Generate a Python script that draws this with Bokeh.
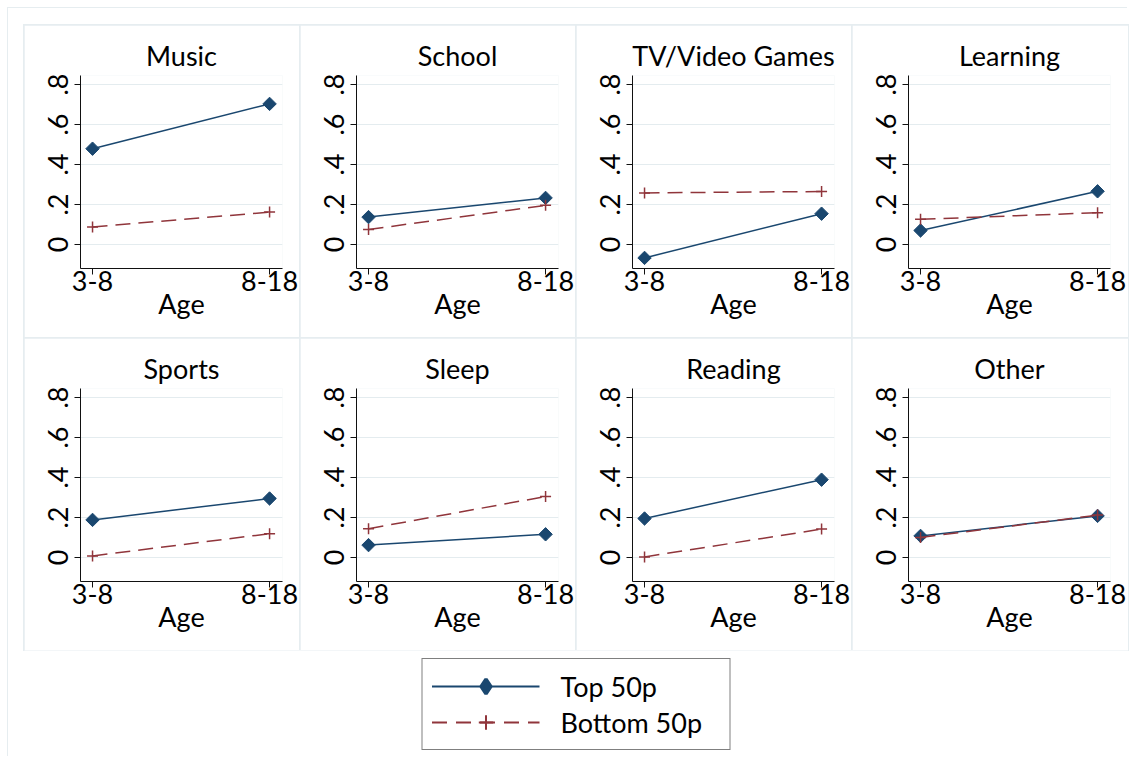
import math
from bokeh.plotting import figure
from bokeh.models import FixedTicker, Legend, LegendItem
from bokeh.layouts import gridplot, column
from bokeh.embed import file_html
from bokeh.resources import INLINE

# ---------------- data ----------------
categories = ["Music", "School", "TV/Video Games", "Learning",
              "Sports", "Sleep", "Reading", "Other"]
ages = ["3-8", "8-18"]
series_names = ["Top 50p", "Bottom 50p"]

top_3_8 = [0.479, 0.137, -0.067, 0.070, 0.188, 0.062, 0.195, 0.108]
top_8_18 = [0.703, 0.233, 0.154, 0.266, 0.295, 0.116, 0.389, 0.208]
bottom_3_8 = [0.088, 0.075, 0.258, 0.126, 0.008, 0.144, 0.003, 0.100]
bottom_8_18 = [0.162, 0.196, 0.265, 0.159, 0.119, 0.305, 0.142, 0.212]

ytick_values = [0, 0.2, 0.4, 0.6, 0.8]
ytick_labels = ["0", ".2", ".4", ".6", ".8"]
x_title = "Age"

# ---------------- style ----------------
FONT = "Lato"
FS = "27px"
NAVY = "#1a476f"
MAROON = "#90353b"
GRIDC = "#e4ecef"
PANEL_BORDER = "#e6edf0"
col_widths = [275, 275, 275, 276]
PANEL_H = 312
FRAME_W = 202

xpos = list(range(len(ages)))


def make_panel(i):
    w = col_widths[i % 4]
    p = figure(width=w, height=PANEL_H,
               x_range=(-0.068, 1.073), y_range=(-0.12, 0.845),
               output_backend="svg", toolbar_location=None,
               min_border_left=56, min_border_right=w - 56 - FRAME_W,
               min_border_top=50, min_border_bottom=69,
               title=categories[i])
    p.title.align = "center"
    p.title.text_font = FONT
    p.title.text_font_size = FS
    p.title.text_font_style = "normal"
    p.title.text_color = "black"
    p.title.standoff = 8
    p.outline_line_color = None
    p.background_fill_color = "white"
    p.border_fill_color = "white"
    p.xgrid.visible = False
    p.ygrid.grid_line_color = GRIDC
    p.ygrid.grid_line_width = 1

    p.yaxis.ticker = FixedTicker(ticks=ytick_values)
    p.yaxis.major_label_overrides = dict(zip(ytick_values, ytick_labels))
    p.yaxis.major_label_orientation = "vertical"
    p.yaxis.major_label_standoff = 7
    p.xaxis.ticker = FixedTicker(ticks=xpos)
    p.xaxis.major_label_overrides = dict(zip(xpos, ages))
    p.xaxis.major_label_standoff = -4
    p.xaxis.axis_label = x_title
    p.xaxis.axis_label_standoff = -7
    p.xaxis.axis_label_text_font = FONT
    p.xaxis.axis_label_text_font_size = FS
    p.xaxis.axis_label_text_font_style = "normal"
    p.xaxis.axis_label_text_color = "black"
    for ax in (p.xaxis[0], p.yaxis[0]):
        ax.minor_tick_line_color = None
        ax.major_tick_in = 0
        ax.major_tick_out = 6
        ax.axis_line_color = "#111111"
        ax.major_tick_line_color = "#111111"
        ax.major_label_text_font = FONT
        ax.major_label_text_font_size = FS
        ax.major_label_text_color = "black"

    top = [top_3_8[i], top_8_18[i]]
    bot = [bottom_3_8[i], bottom_8_18[i]]
    p.line(xpos, top, line_color=NAVY, line_width=1.5)
    p.scatter(xpos, top, marker="square", angle=math.pi / 4, size=9.5,
              fill_color=NAVY, line_color=NAVY)
    p.line(xpos, bot, line_color=MAROON, line_width=1.5, line_dash="15 8")
    p.scatter(xpos, bot, marker="cross", size=11, line_color=MAROON,
              line_width=1.5)
    return p


panels = [make_panel(i) for i in range(len(categories))]
grid = gridplot(panels, ncols=4, toolbar_location=None)
grid.spacing = 1
grid.styles = {"background-color": PANEL_BORDER,
               "outline": f"1px solid {PANEL_BORDER}"}
grid.margin = (17, 0, 0, 16)

# ---------------- legend ----------------
nan = float("nan")
lf = figure(width=1104, height=107, output_backend="svg",
            toolbar_location=None, x_axis_type=None, y_axis_type=None,
            x_range=(0, 1), y_range=(0, 1), min_border=0)
lf.outline_line_color = None
lf.xgrid.visible = False
lf.ygrid.visible = False
l1 = lf.line(x=[nan], y=[nan], line_color=NAVY, line_width=1.8)
s1 = lf.scatter(x=[nan], y=[nan], marker="diamond", fill_color=NAVY,
                line_color=NAVY, line_width=3.5)
l2 = lf.line(x=[nan], y=[nan], line_color=MAROON, line_width=1.8,
             line_dash="15 9")
s2 = lf.scatter(x=[nan], y=[nan], marker="cross", line_color=MAROON,
                line_width=2)
legend = Legend(items=[LegendItem(label=series_names[0], renderers=[l1, s1]),
                       LegendItem(label=series_names[1], renderers=[l2, s2])],
                location="top_center", orientation="vertical",
                border_line_color="black", border_line_width=1,
                background_fill_color="white", background_fill_alpha=1,
                label_text_font=FONT, label_text_font_size=FS,
                label_text_color="black",
                glyph_width=108, glyph_height=36, label_standoff=21,
                label_width=160, padding=9, spacing=0, margin=8)
lf.add_layout(legend, "center")
lf.margin = (0, 0, 0, 16)

root = column(grid, lf)
root.margin = (8, 0, 0, 8)
root.styles = {"box-shadow": f"-1px -1px 0 0 {PANEL_BORDER}"}

open("out.html", "w").write(file_html(root, INLINE))
